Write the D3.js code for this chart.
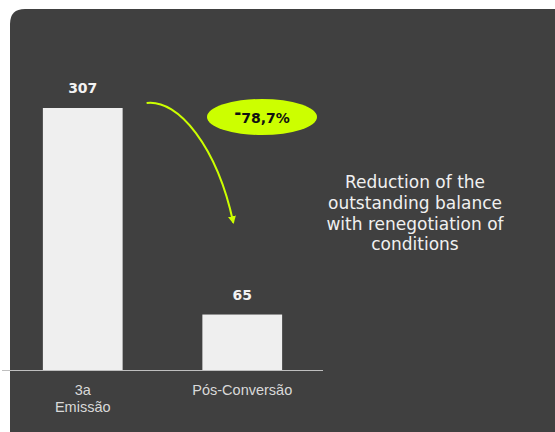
<!DOCTYPE html>
<html>
<head>
<meta charset="utf-8">
<script src="https://cdn.jsdelivr.net/npm/d3@7"></script>
<style>
  html, body { margin: 0; padding: 0; background: #ffffff; }
  svg { display: block; }
</style>
</head>
<body>
<svg id="chart" width="555" height="432"></svg>
<script>
// ---- data ----
const categories = ["3a\nEmissão", "Pós-Conversão"];
const values = [307, 65];
const valueLabels = ["307", "65"];
const changeLabel = "-78,7%";
const noteLines = ["Reduction of the", "outstanding balance", "with renegotiation of", "conditions"];

const W = 555, H = 432;
const svg = d3.select("#chart");

// panel
svg.append("path")
  .attr("d", `M10,${H} L10,24 Q10,9 25,9 L${W},9 L${W},${H} Z`)
  .attr("fill", "#404040");

const baseY = 370;
const x = d3.scaleBand().domain(categories).range([3, 322]).paddingInner(0.5).paddingOuter(0.25);
const y = d3.scaleLinear().domain([0, 307]).range([baseY, 108]);

// bars
svg.selectAll("rect.bar").data(values).join("rect")
  .attr("class", "bar")
  .attr("x", (d, i) => x(categories[i]))
  .attr("width", x.bandwidth())
  .attr("y", d => y(d))
  .attr("height", d => y(0) - y(d))
  .attr("fill", "#efefef");

// baseline axis
const axis = d3.axisBottom(x).tickSize(0).tickFormat("");
const gx = svg.append("g").attr("transform", `translate(0,${baseY})`).call(axis);
gx.select(".domain").attr("stroke", "#bfbfbf").attr("stroke-width", 1.2).attr("d", "M2,0.5H323");

// category labels
categories.forEach((c, i) => {
  const t = svg.append("text")
    .attr("x", x(c) + x.bandwidth() / 2)
    .attr("y", 395)
    .attr("text-anchor", "middle")
    .attr("font-family", "Liberation Sans, Arial, sans-serif")
    .attr("font-size", 14.5)
    .attr("fill", "#d9d9d9");
  c.split("\n").forEach((line, k) => {
    t.append("tspan").attr("x", x(c) + x.bandwidth() / 2).attr("dy", k === 0 ? 0 : 17).text(line);
  });
});

// value labels
svg.selectAll("text.val").data(values).join("text")
  .attr("class", "val")
  .attr("x", (d, i) => x(categories[i]) + x.bandwidth() / 2)
  .attr("y", d => y(d) - 15)
  .attr("text-anchor", "middle")
  .attr("font-family", "DejaVu Sans, sans-serif")
  .attr("font-weight", "bold")
  .attr("font-size", 14)
  .attr("fill", "#f2f2f2")
  .text((d, i) => valueLabels[i]);

// arrow
const defs = svg.append("defs");
defs.append("marker")
  .attr("id", "ah").attr("viewBox", "0 0 10 10").attr("refX", 8).attr("refY", 5)
  .attr("markerWidth", 8).attr("markerHeight", 8).attr("orient", "auto")
  .attr("markerUnits", "userSpaceOnUse")
  .append("path").attr("d", "M0,0 L10,5 L0,10 Z").attr("fill", "#ccff00");

const x1 = x(categories[0]) + x.bandwidth() + 24;
const y1 = y(values[0]) - 5;
const x2 = x(categories[1]) + x.bandwidth() / 2 - 9;
const y2 = y(values[1]) - 92;
const p = d3.path();
p.moveTo(x1, y1);
p.bezierCurveTo(x1 + 32, y1 - 4, x2 - 16, y2 - 75, x2, y2);
svg.append("path").attr("d", p.toString())
  .attr("fill", "none").attr("stroke", "#ccff00").attr("stroke-width", 2)
  .attr("marker-end", "url(#ah)");

// change bubble
svg.append("ellipse").attr("cx", 262).attr("cy", 117).attr("rx", 55).attr("ry", 18).attr("fill", "#ccff00");
const ct = svg.append("text")
  .attr("x", 262).attr("y", 123)
  .attr("text-anchor", "middle")
  .attr("font-family", "DejaVu Sans, sans-serif")
  .attr("font-weight", "bold")
  .attr("font-size", 14)
  .attr("fill", "#111");
ct.append("tspan").attr("dy", -4).attr("font-size", 17).text(changeLabel.slice(0, 1));
ct.append("tspan").attr("dy", 4).text(changeLabel.slice(1));

// note text
const nt = svg.append("text")
  .attr("text-anchor", "middle")
  .attr("font-family", "DejaVu Sans, sans-serif")
  .attr("font-size", 17)
  .attr("fill", "#f0f0f0");
noteLines.forEach((l, k) => {
  nt.append("tspan").attr("x", 415).attr("y", 188 + k * 20.8).text(l);
});
</script>
</body>
</html>
